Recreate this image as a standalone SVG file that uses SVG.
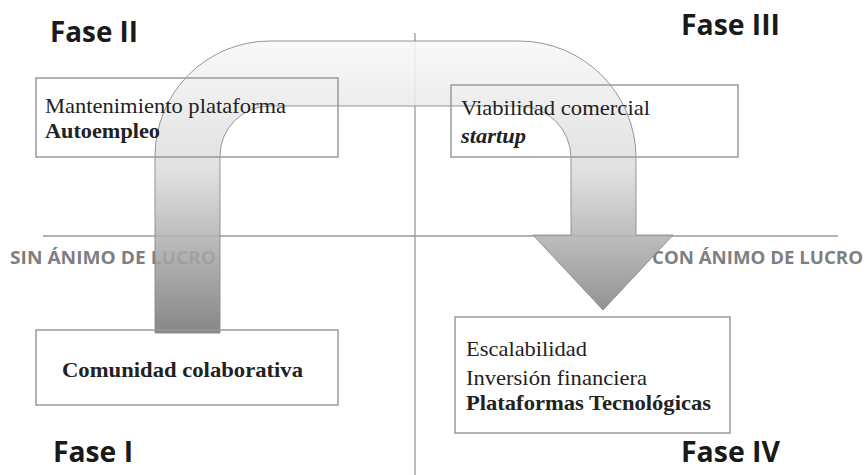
<svg xmlns="http://www.w3.org/2000/svg" width="867" height="475" viewBox="0 0 867 475">
<style>
.axis{stroke:#9a9a9a;stroke-width:1.3;fill:none}
.box{fill:none;stroke:#9a9a9a;stroke-width:1.5}
.fase{font-family:"Open Sans","Liberation Sans",sans-serif;font-weight:700;font-size:28px;fill:#1a1a1a}
.side{font-family:"Open Sans","Liberation Sans",sans-serif;font-weight:700;font-size:17px;fill:#7f7f7f}
.t{font-family:"Liberation Serif","Times New Roman",serif;font-size:21px;fill:#222}
.b{font-weight:700}
.bi{font-weight:700;font-style:italic}
</style>
<defs>
<linearGradient id="g" gradientUnits="userSpaceOnUse" x1="0" y1="41" x2="0" y2="333">
<stop offset="0" stop-color="#f8f8f8"/>
<stop offset="0.45" stop-color="#dcdcdc"/>
<stop offset="1" stop-color="#767676"/>
</linearGradient>
</defs>
<g id="axes">
<line class="axis" x1="415" y1="33" x2="415" y2="475"/>
<line class="axis" x1="43" y1="236" x2="838" y2="236"/>
</g>
<g id="labels">
<text class="side" x="10" y="264" textLength="206" lengthAdjust="spacingAndGlyphs">SIN ÁNIMO DE LUCRO</text>
<text class="side" x="652" y="264" textLength="211" lengthAdjust="spacingAndGlyphs">CON ÁNIMO DE LUCRO</text>
<text class="fase" x="50" y="42" textLength="88" lengthAdjust="spacingAndGlyphs">Fase II</text>
<text class="fase" x="681" y="35" textLength="99" lengthAdjust="spacingAndGlyphs">Fase III</text>
<text class="fase" x="53" y="462" textLength="80" lengthAdjust="spacingAndGlyphs">Fase I</text>
<text class="fase" x="681" y="462" textLength="99" lengthAdjust="spacingAndGlyphs">Fase IV</text>
</g>
<g id="connectors">
<path d="M155 333 L155 156 A115 115 0 0 1 270 41 L519 41 A117 117 0 0 1 636 158 L636 235 L673 235 L603 310 L533 235 L571 235 L571 158 A52 52 0 0 0 519 106 L270 106 A50 50 0 0 0 220 156 L220 333 Z" fill="url(#g)" fill-opacity="0.88" stroke="#8a8a8a" stroke-width="0.9"/>
</g>
<g id="fase2">
<rect class="box" x="36" y="78" width="302" height="79"/>
<text class="t" x="45" y="113" textLength="241" lengthAdjust="spacingAndGlyphs">Mantenimiento plataforma</text>
<text class="t b" x="45" y="138" textLength="115" lengthAdjust="spacingAndGlyphs">Autoempleo</text>
</g>
<g id="fase3">
<rect class="box" x="451" y="85" width="287" height="72"/>
<text class="t" x="461" y="115" textLength="189" lengthAdjust="spacingAndGlyphs">Viabilidad comercial</text>
<text class="t bi" x="461" y="143" textLength="65" lengthAdjust="spacingAndGlyphs">startup</text>
</g>
<g id="fase1">
<rect class="box" x="36" y="330" width="302" height="75"/>
<text class="t b" x="62" y="377" textLength="241" lengthAdjust="spacingAndGlyphs">Comunidad colaborativa</text>
</g>
<g id="fase4">
<rect class="box" x="455" y="317" width="275" height="116"/>
<text class="t" x="466" y="356" textLength="121" lengthAdjust="spacingAndGlyphs">Escalabilidad</text>
<text class="t" x="466" y="385" textLength="181" lengthAdjust="spacingAndGlyphs">Inversión financiera</text>
<text class="t b" x="466" y="410" textLength="245" lengthAdjust="spacingAndGlyphs">Plataformas Tecnológicas</text>
</g>
</svg>
